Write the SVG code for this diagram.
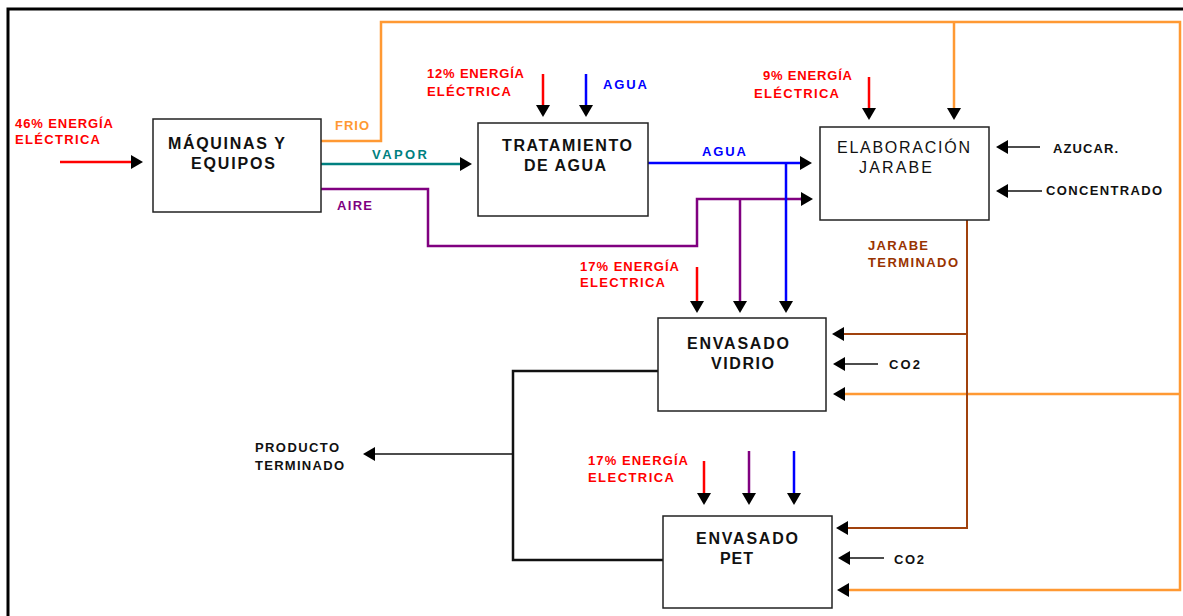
<svg xmlns="http://www.w3.org/2000/svg" width="1183" height="616" viewBox="0 0 1183 616">
<defs>
<marker id="ah" viewBox="0 0 12 14" markerUnits="userSpaceOnUse" markerWidth="12" markerHeight="14" refX="9" refY="7" orient="auto">
<path d="M0,0 L12,7 L0,14 z" fill="#000"/>
</marker>
<style>
.box{fill:#fff;stroke:#222;stroke-width:1.5}
.bt{font-family:"Liberation Sans",Arial,sans-serif;font-size:16px;font-weight:bold;fill:#111}
.btn{font-family:"Liberation Sans",Arial,sans-serif;font-size:16px;font-weight:normal;fill:#111}
.lb{font-family:"Liberation Sans",Arial,sans-serif;font-size:13px;font-weight:bold}
.c{fill:none;stroke-width:2.5}
.red{stroke:#ff0000}.blue{stroke:#0000ff}.pur{stroke:#800080}.teal{stroke:#008080}.org{stroke:#ff9933}.brn{stroke:#a0410d;stroke-width:2}.blk{stroke:#111}
.thin{stroke:#111;stroke-width:1.5;fill:none}
.a{marker-end:url(#ah)}
</style>
</defs>
<rect width="1183" height="616" fill="#fff"/>
<path d="M8,616 V9 H1183" fill="none" stroke="#000" stroke-width="3"/>

<g id="connectors">
<path class="c red a" d="M60,162 H140"/>
<path class="c org" d="M321,141 H381 V22 H1180 V590 H841"/>
<path class="c org a" d="M841,590 H840"/>
<path class="c org a" d="M954,22 V117"/>
<path class="c org a" d="M1180,394 H836"/>
<path class="c teal a" d="M321,164 H469"/>
<path class="c pur" d="M321,189 H428 V246 H697 V199 H810"/>
<path class="c pur a" d="M800,199 H810"/>
<path class="c pur a" d="M740,199 V310"/>
<path class="c blue a" d="M648,163 H809"/>
<path class="c blue a" d="M786,163 V310"/>
<path class="c red a" d="M543,74 V114"/>
<path class="c blue a" d="M586,74 V114"/>
<path class="c red a" d="M869,77 V117"/>
<path class="thin a" d="M1040,147 H999"/>
<path class="thin a" d="M1042,191 H999"/>
<path class="c brn" d="M967,220 V528 H839"/>
<path class="c brn a" d="M845,528 H839"/>
<path class="c brn a" d="M967,334 H835"/>
<path class="thin a" d="M878,364 H836"/>
<path class="c red a" d="M697,267 V310"/>
<path class="c blk" d="M658,371 H513 V560 H663"/>
<path class="thin a" d="M513,454 H366"/>
<path class="c red a" d="M704,461 V502"/>
<path class="c pur a" d="M749,451 V502"/>
<path class="c blue a" d="M794,451 V502"/>
<path class="thin a" d="M884,558 H841"/>
</g>

<g id="maquinas">
<rect class="box" x="153" y="119" width="168" height="93"/>
<text class="bt" x="168" y="149" textLength="117">MÁQUINAS Y</text>
<text class="bt" x="191" y="169" textLength="84">EQUIPOS</text>
</g>
<g id="tratamiento">
<rect class="box" x="478" y="123" width="170" height="93"/>
<text class="bt" x="502" y="151" textLength="130">TRATAMIENTO</text>
<text class="bt" x="524" y="171" textLength="82">DE AGUA</text>
</g>
<g id="elaboracion">
<rect class="box" x="820" y="127" width="169" height="93"/>
<text class="btn" x="837" y="153" textLength="133">ELABORACIÓN</text>
<text class="btn" x="859" y="173" textLength="73">JARABE</text>
</g>
<g id="vidrio">
<rect class="box" x="658" y="318" width="168" height="93"/>
<text class="bt" x="687" y="349" textLength="102">ENVASADO</text>
<text class="bt" x="711" y="369" textLength="63">VIDRIO</text>
</g>
<g id="pet">
<rect class="box" x="663" y="516" width="169" height="92"/>
<text class="bt" x="696" y="544" textLength="102">ENVASADO</text>
<text class="bt" x="720" y="564" textLength="33">PET</text>
</g>

<g id="labels">
<text class="lb" fill="#ff0000" x="15" y="128" textLength="98">46% ENERGÍA</text>
<text class="lb" fill="#ff0000" x="15" y="144" textLength="85">ELÉCTRICA</text>
<text class="lb" fill="#ff9933" x="335" y="130" textLength="34">FRIO</text>
<text class="lb" fill="#008080" x="372" y="159" textLength="55">VAPOR</text>
<text class="lb" fill="#800080" x="337" y="210" textLength="35">AIRE</text>
<text class="lb" fill="#ff0000" x="427" y="78" textLength="97">12% ENERGÍA</text>
<text class="lb" fill="#ff0000" x="427" y="96" textLength="84">ELÉCTRICA</text>
<text class="lb" fill="#0000ff" x="603" y="89" textLength="44">AGUA</text>
<text class="lb" fill="#0000ff" x="702" y="156" textLength="44">AGUA</text>
<text class="lb" fill="#ff0000" x="763" y="80" textLength="89">9% ENERGÍA</text>
<text class="lb" fill="#ff0000" x="754" y="98" textLength="85">ELÉCTRICA</text>
<text class="lb" fill="#111" x="1053" y="153" textLength="65">AZUCAR.</text>
<text class="lb" fill="#111" x="1046" y="195" textLength="116">CONCENTRADO</text>
<text class="lb" fill="#993300" x="868" y="250" textLength="60">JARABE</text>
<text class="lb" fill="#993300" x="868" y="267" textLength="90">TERMINADO</text>
<text class="lb" fill="#ff0000" x="580" y="271" textLength="99">17% ENERGÍA</text>
<text class="lb" fill="#ff0000" x="580" y="287" textLength="85">ELECTRICA</text>
<text class="lb" fill="#111" x="889" y="369" textLength="31">CO2</text>
<text class="lb" fill="#ff0000" x="588" y="465" textLength="100">17% ENERGÍA</text>
<text class="lb" fill="#ff0000" x="588" y="482" textLength="86">ELECTRICA</text>
<text class="lb" fill="#111" x="894" y="564" textLength="30">CO2</text>
<text class="lb" fill="#111" x="255" y="452" textLength="84">PRODUCTO</text>
<text class="lb" fill="#111" x="255" y="470" textLength="89">TERMINADO</text>
</g>
</svg>
